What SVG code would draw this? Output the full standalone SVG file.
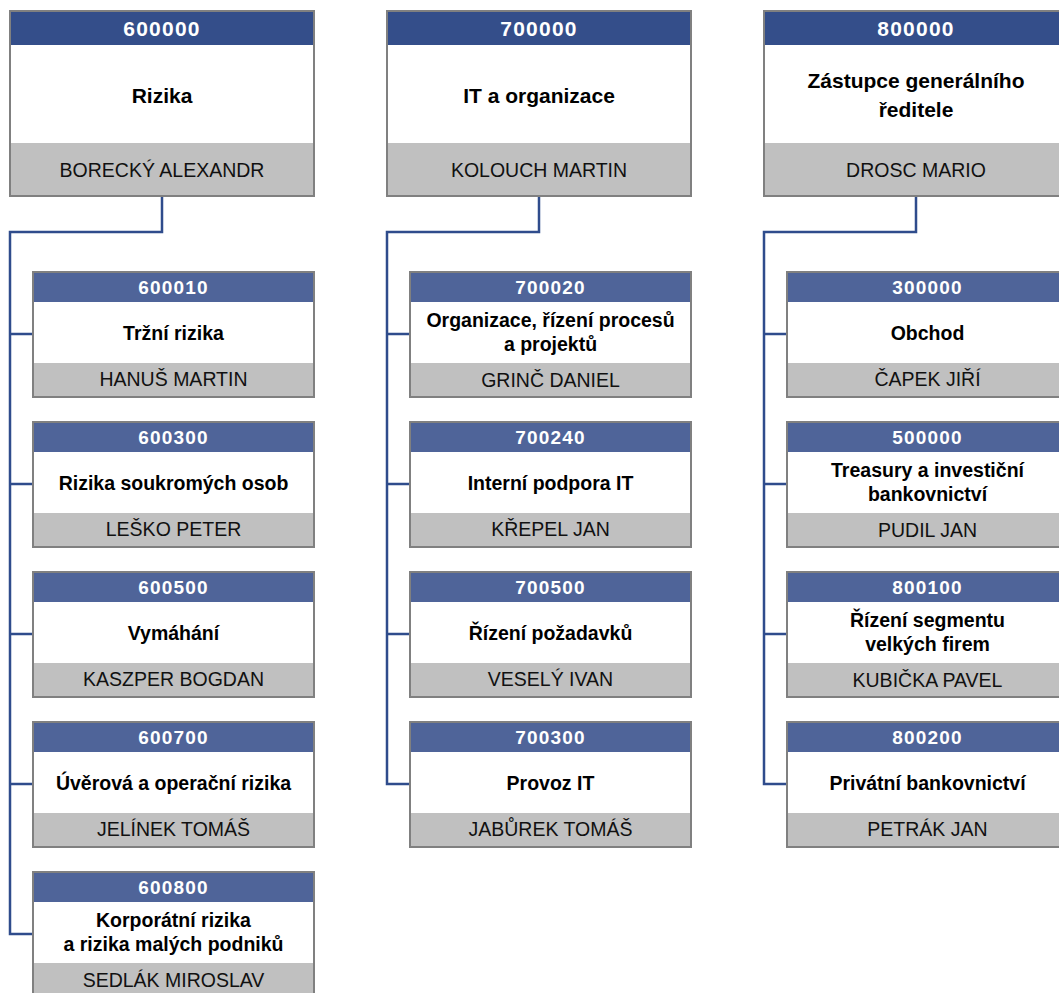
<svg xmlns="http://www.w3.org/2000/svg" width="1059" height="993" viewBox="0 0 1059 993">
<style>
.hd{fill:#344e8a}
.hc{fill:#4f6499}
.wb{fill:#ffffff}
.gb{fill:#c0c0c0}
.bd{fill:none;stroke:#808080;stroke-width:2}
.num{font-family:"Liberation Sans",Arial,sans-serif;font-weight:bold;fill:#ffffff;text-anchor:middle;letter-spacing:1.2px}
.n1{font-size:21px}
.n2{font-size:19px}
.tt{font-family:"Liberation Sans",Arial,sans-serif;font-weight:bold;fill:#000000;text-anchor:middle}
.t1{font-size:21px}
.t2{font-size:19.5px}
.nm{font-family:"Liberation Sans",Arial,sans-serif;fill:#111111;text-anchor:middle;font-size:19.5px}
.cn{fill:none;stroke:#2f4c8c;stroke-width:2.5}
</style>
<rect width="1059" height="993" fill="#ffffff"/>
<g id="connectors">
<path class="cn" d="M162,197 V232 H10 V934 H33 M10,334 H33 M10,484 H33 M10,634 H33 M10,784 H33"/>
<path class="cn" d="M539,197 V232 H387 V784 H410 M387,334 H410 M387,484 H410 M387,634 H410"/>
<path class="cn" d="M916,197 V232 H764 V784 H787 M764,334 H787 M764,484 H787 M764,634 H787"/>
</g>
<g id="n600000">
<rect class="hd" x="10" y="11" width="304" height="34"/><rect class="wb" x="10" y="45" width="304" height="98"/><rect class="gb" x="10" y="143" width="304" height="53"/><rect class="bd" x="10" y="11" width="304" height="185"/>
<text class="num n1" x="162" y="36">600000</text>
<text class="tt t1" x="162" y="103">Rizika</text>
<text class="nm" x="162" y="177">BORECKÝ ALEXANDR</text>
</g>
<g id="n700000">
<rect class="hd" x="387" y="11" width="304" height="34"/><rect class="wb" x="387" y="45" width="304" height="98"/><rect class="gb" x="387" y="143" width="304" height="53"/><rect class="bd" x="387" y="11" width="304" height="185"/>
<text class="num n1" x="539" y="36">700000</text>
<text class="tt t1" x="539" y="103">IT a organizace</text>
<text class="nm" x="539" y="177">KOLOUCH MARTIN</text>
</g>
<g id="n800000">
<rect class="hd" x="764" y="11" width="304" height="34"/><rect class="wb" x="764" y="45" width="304" height="98"/><rect class="gb" x="764" y="143" width="304" height="53"/><rect class="bd" x="764" y="11" width="304" height="185"/>
<text class="num n1" x="916" y="36">800000</text>
<text class="tt t1" x="916" y="88">Zástupce generálního</text>
<text class="tt t1" x="916" y="117">ředitele</text>
<text class="nm" x="916" y="177">DROSC MARIO</text>
</g>
<g id="n600010">
<rect class="hc" x="33" y="272" width="281" height="30"/><rect class="wb" x="33" y="302" width="281" height="61"/><rect class="gb" x="33" y="363" width="281" height="34"/><rect class="bd" x="33" y="272" width="281" height="125"/>
<text class="num n2" x="173.5" y="294">600010</text>
<text class="tt t2" x="173.5" y="340">Tržní rizika</text>
<text class="nm" x="173.5" y="386">HANUŠ MARTIN</text>
</g>
<g id="n600300">
<rect class="hc" x="33" y="422" width="281" height="30"/><rect class="wb" x="33" y="452" width="281" height="61"/><rect class="gb" x="33" y="513" width="281" height="34"/><rect class="bd" x="33" y="422" width="281" height="125"/>
<text class="num n2" x="173.5" y="444">600300</text>
<text class="tt t2" x="173.5" y="490">Rizika soukromých osob</text>
<text class="nm" x="173.5" y="536">LEŠKO PETER</text>
</g>
<g id="n600500">
<rect class="hc" x="33" y="572" width="281" height="30"/><rect class="wb" x="33" y="602" width="281" height="61"/><rect class="gb" x="33" y="663" width="281" height="34"/><rect class="bd" x="33" y="572" width="281" height="125"/>
<text class="num n2" x="173.5" y="594">600500</text>
<text class="tt t2" x="173.5" y="640">Vymáhání</text>
<text class="nm" x="173.5" y="686">KASZPER BOGDAN</text>
</g>
<g id="n600700">
<rect class="hc" x="33" y="722" width="281" height="30"/><rect class="wb" x="33" y="752" width="281" height="61"/><rect class="gb" x="33" y="813" width="281" height="34"/><rect class="bd" x="33" y="722" width="281" height="125"/>
<text class="num n2" x="173.5" y="744">600700</text>
<text class="tt t2" x="173.5" y="790">Úvěrová a operační rizika</text>
<text class="nm" x="173.5" y="836">JELÍNEK TOMÁŠ</text>
</g>
<g id="n600800">
<rect class="hc" x="33" y="872" width="281" height="30"/><rect class="wb" x="33" y="902" width="281" height="61"/><rect class="gb" x="33" y="963" width="281" height="34"/><rect class="bd" x="33" y="872" width="281" height="125"/>
<text class="num n2" x="173.5" y="894">600800</text>
<text class="tt t2" x="173.5" y="927">Korporátní rizika</text>
<text class="tt t2" x="173.5" y="951">a rizika malých podniků</text>
<text class="nm" x="173.5" y="987">SEDLÁK MIROSLAV</text>
</g>
<g id="n700020">
<rect class="hc" x="410" y="272" width="281" height="30"/><rect class="wb" x="410" y="302" width="281" height="61"/><rect class="gb" x="410" y="363" width="281" height="34"/><rect class="bd" x="410" y="272" width="281" height="125"/>
<text class="num n2" x="550.5" y="294">700020</text>
<text class="tt t2" x="550.5" y="327">Organizace, řízení procesů</text>
<text class="tt t2" x="550.5" y="351">a projektů</text>
<text class="nm" x="550.5" y="387">GRINČ DANIEL</text>
</g>
<g id="n700240">
<rect class="hc" x="410" y="422" width="281" height="30"/><rect class="wb" x="410" y="452" width="281" height="61"/><rect class="gb" x="410" y="513" width="281" height="34"/><rect class="bd" x="410" y="422" width="281" height="125"/>
<text class="num n2" x="550.5" y="444">700240</text>
<text class="tt t2" x="550.5" y="490">Interní podpora IT</text>
<text class="nm" x="550.5" y="536">KŘEPEL JAN</text>
</g>
<g id="n700500">
<rect class="hc" x="410" y="572" width="281" height="30"/><rect class="wb" x="410" y="602" width="281" height="61"/><rect class="gb" x="410" y="663" width="281" height="34"/><rect class="bd" x="410" y="572" width="281" height="125"/>
<text class="num n2" x="550.5" y="594">700500</text>
<text class="tt t2" x="550.5" y="640">Řízení požadavků</text>
<text class="nm" x="550.5" y="686">VESELÝ IVAN</text>
</g>
<g id="n700300">
<rect class="hc" x="410" y="722" width="281" height="30"/><rect class="wb" x="410" y="752" width="281" height="61"/><rect class="gb" x="410" y="813" width="281" height="34"/><rect class="bd" x="410" y="722" width="281" height="125"/>
<text class="num n2" x="550.5" y="744">700300</text>
<text class="tt t2" x="550.5" y="790">Provoz IT</text>
<text class="nm" x="550.5" y="836">JABŮREK TOMÁŠ</text>
</g>
<g id="n300000">
<rect class="hc" x="787" y="272" width="281" height="30"/><rect class="wb" x="787" y="302" width="281" height="61"/><rect class="gb" x="787" y="363" width="281" height="34"/><rect class="bd" x="787" y="272" width="281" height="125"/>
<text class="num n2" x="927.5" y="294">300000</text>
<text class="tt t2" x="927.5" y="340">Obchod</text>
<text class="nm" x="927.5" y="386">ČAPEK JIŘÍ</text>
</g>
<g id="n500000">
<rect class="hc" x="787" y="422" width="281" height="30"/><rect class="wb" x="787" y="452" width="281" height="61"/><rect class="gb" x="787" y="513" width="281" height="34"/><rect class="bd" x="787" y="422" width="281" height="125"/>
<text class="num n2" x="927.5" y="444">500000</text>
<text class="tt t2" x="927.5" y="477">Treasury a investiční</text>
<text class="tt t2" x="927.5" y="501">bankovnictví</text>
<text class="nm" x="927.5" y="537">PUDIL JAN</text>
</g>
<g id="n800100">
<rect class="hc" x="787" y="572" width="281" height="30"/><rect class="wb" x="787" y="602" width="281" height="61"/><rect class="gb" x="787" y="663" width="281" height="34"/><rect class="bd" x="787" y="572" width="281" height="125"/>
<text class="num n2" x="927.5" y="594">800100</text>
<text class="tt t2" x="927.5" y="627">Řízení segmentu</text>
<text class="tt t2" x="927.5" y="651">velkých firem</text>
<text class="nm" x="927.5" y="687">KUBIČKA PAVEL</text>
</g>
<g id="n800200">
<rect class="hc" x="787" y="722" width="281" height="30"/><rect class="wb" x="787" y="752" width="281" height="61"/><rect class="gb" x="787" y="813" width="281" height="34"/><rect class="bd" x="787" y="722" width="281" height="125"/>
<text class="num n2" x="927.5" y="744">800200</text>
<text class="tt t2" x="927.5" y="790">Privátní bankovnictví</text>
<text class="nm" x="927.5" y="836">PETRÁK JAN</text>
</g>
</svg>
